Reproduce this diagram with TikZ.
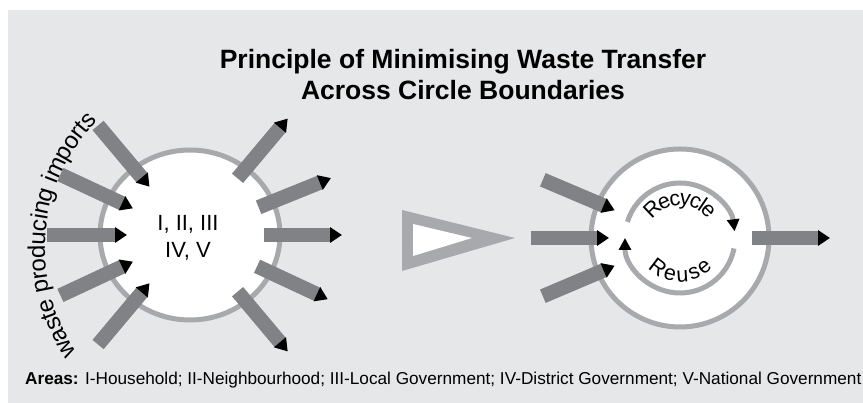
\documentclass[tikz,border=0pt]{standalone}
\usepackage{fontspec}
\setmainfont{Liberation Sans}
\usetikzlibrary{arrows.meta,shapes.geometric,decorations.text}
\definecolor{paper}{RGB}{230,231,232}
\definecolor{rim}{RGB}{167,169,172}
\definecolor{pipegrey}{RGB}{128,130,133}
\begin{document}
\begin{tikzpicture}[x=1pt,y=1pt,
  pipe/.style={draw=pipegrey,line width=14.5pt,-{Triangle[length=12pt,width=15pt,color=black]}},
  turn/.style={draw=rim,line width=5pt,-{Triangle[length=12pt,width=12pt,color=black]}},
  bend text/.style 2 args={decorate,decoration={text along path,text align=center,raise=#1,text={#2}}}]
\useasboundingbox (0,0) rectangle (863,403);
\fill[white] (0,0) rectangle (863,403);
\fill[paper] (8,0) rectangle (863,393);
\node[font=\bfseries\fontsize{26.5}{31}\selectfont,anchor=base] (title) at (463,334) {Principle of Minimising Waste Transfer};
\node[font=\bfseries\fontsize{26.5}{31}\selectfont,anchor=base] (subtitle) at (463,303) {Across Circle Boundaries};
\node[ellipse,draw=rim,line width=5pt,fill=white,minimum width=180pt,minimum height=170pt] (lc) at (190,168) {};
\node[align=center,font=\fontsize{22}{27}\selectfont] (lname) at (188,165) {I, II, III\\IV, V};
\foreach \a in {130,155,180,205,230}
\draw[pipe] ([shift={(\a:143)}]lc.center) -- ([shift={(\a:63)}]lc.center);
\foreach \a in {50,22,0,-25,-50}
\draw[pipe] ([shift={(\a:74)}]lc.center) -- ([shift={(\a:152)}]lc.center);
\coordinate (wc) at (228,154);
\path[bend text={-6pt}{|\fontsize{24}{24}\selectfont|waste producing imports}] ([shift={(235:189)}]wc) arc[start angle=235,end angle=115,radius=189];
\fill[rim] (402,193) -- (402,132) -- (515,165) -- cycle;
\fill[white] (413,179) -- (413,147) -- (472,165) -- cycle;
\node[circle,draw=rim,line width=5pt,fill=white,minimum size=178pt] (rc) at (680,165) {};
\draw[turn] ([shift={(163:55)}]rc.center) arc[start angle=163,end angle=7,radius=55];
\draw[turn] ([shift={(-11:55)}]rc.center) arc[start angle=-11,end angle=-180,radius=55];
\path[bend text={-7pt}{|\fontsize{21.5}{21.5}\selectfont|Recycle}] ([shift={(165:40)}]rc.center) arc[start angle=165,end angle=15,radius=40];
\path[bend text={-8pt}{|\fontsize{21.5}{21.5}\selectfont|Reuse}] ([shift={(195:36)}]rc.center) arc[start angle=195,end angle=345,radius=36];
\foreach \a in {157,180,203}
\draw[pipe] ([shift={(\a:149)}]rc.center) -- ([shift={(\a:71)}]rc.center);
\draw[pipe] ([shift={(0:72)}]rc.center) -- ([shift={(0:150)}]rc.center);
\node[anchor=base west,font=\fontsize{17.2}{20}\selectfont,inner sep=0pt] (areas) at (25,18) {\textbf{Areas:} I-Household; II-Neighbourhood; III-Local Government; IV-District Government; V-National Government};
\end{tikzpicture}
\end{document}
